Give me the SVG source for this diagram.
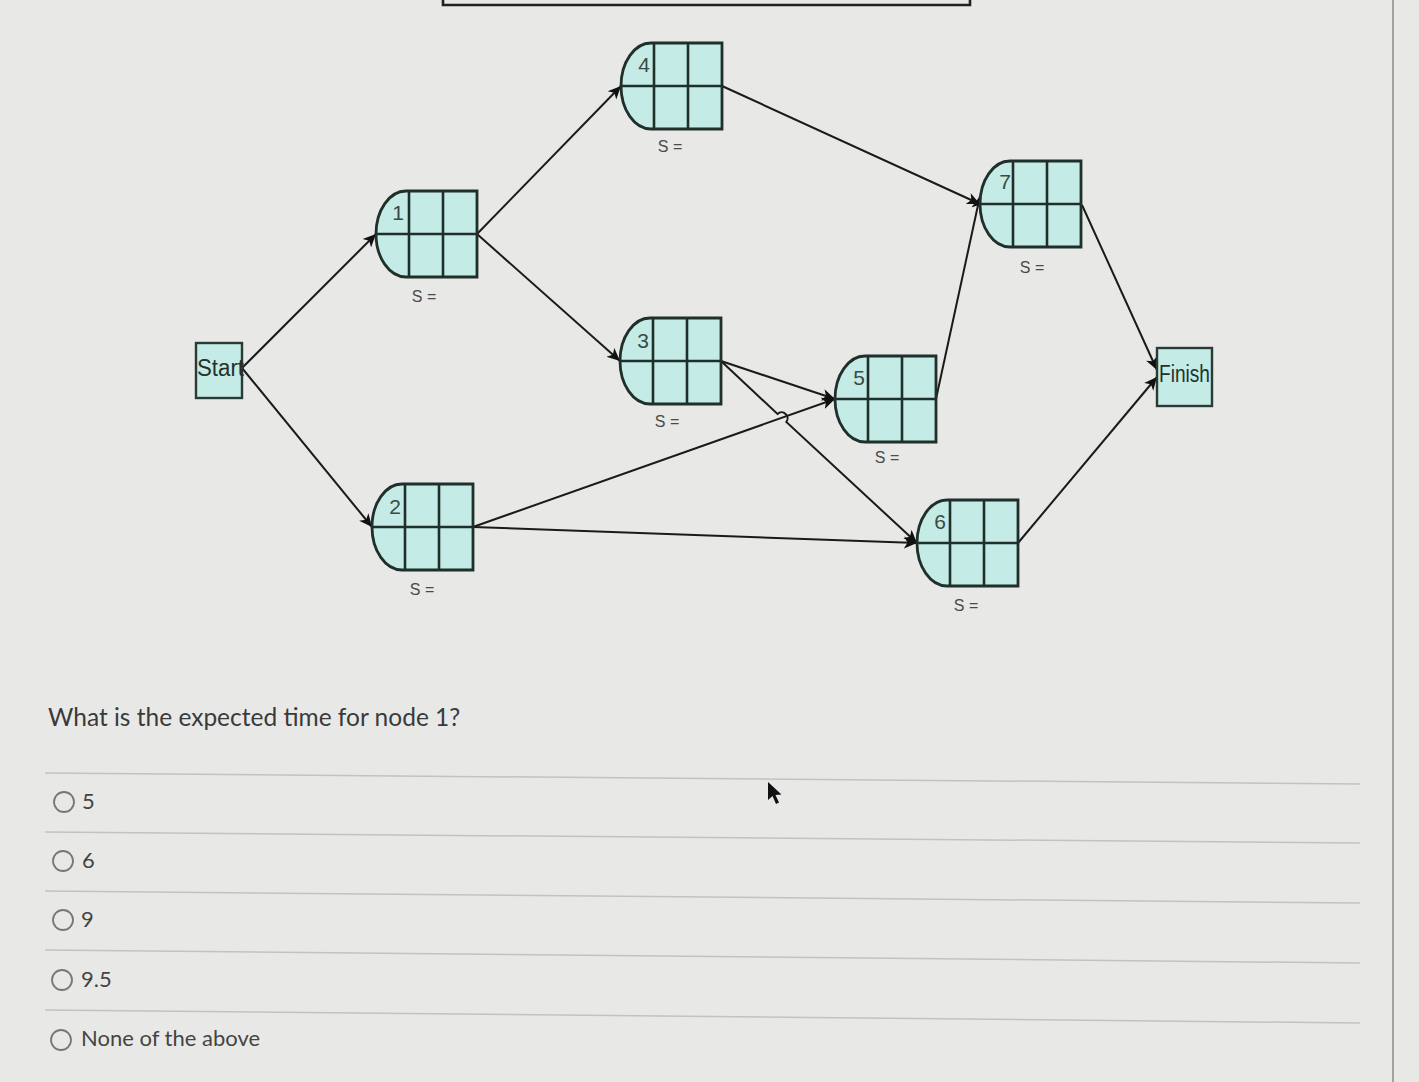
<svg xmlns="http://www.w3.org/2000/svg" xmlns:xlink="http://www.w3.org/1999/xlink" width="1419" height="1082" viewBox="0 0 1419 1082">
<style>
.bg{fill:#e8e9e6}
.nshape{fill:#c4ebe6;stroke:#1f2f2a;stroke-width:2.8}
.grid{stroke:#1f2f2a;stroke-width:2.6;fill:none}
.num{font-family:"Liberation Sans",Arial,sans-serif;font-size:21px;fill:#3b4a45;text-anchor:middle}
.s{font-family:"Liberation Sans",Arial,sans-serif;font-size:16px;fill:#4a4a4a;text-anchor:middle}
.term{fill:#c4ebe6;stroke:#2a3a35;stroke-width:2.4}
.tlabel{font-family:"Liberation Sans",Arial,sans-serif;font-size:23px;fill:#26302d}
.conn{stroke:#1a1a1a;stroke-width:2;fill:none}
.q{font-family:Lato,"Liberation Sans",sans-serif;font-size:24.5px;fill:#3a3a3a}
.opt{font-family:Lato,"Liberation Sans",sans-serif;font-size:22px;fill:#444}
.radio{fill:none;stroke:#777;stroke-width:1.8}
.sep{stroke:#c2c3c0;stroke-width:1.5}
</style>
<defs>
<marker id="arr" markerUnits="userSpaceOnUse" markerWidth="16" markerHeight="14" refX="13" refY="7" orient="auto">
<path d="M0,1 L13,7 L0,13 L3.5,7 Z" fill="#111"/>
</marker>
<g id="nodeShape">
<path class="nshape" d="M30,0 H101 V86 H30 A30 43 0 0 1 0 43 A30 43 0 0 1 30 0 Z"/>
<path class="grid" d="M0,43 H101 M33,0 V86 M67,0 V86"/>
</g>
</defs>
<rect class="bg" x="0" y="0" width="1419" height="1082"/>
<path d="M443,0 V5 H970 V0" fill="none" stroke="#222" stroke-width="2.6"/>
<line x1="1393" y1="0" x2="1393" y2="1082" stroke="#999" stroke-width="1.8"/>

<g id="connectors">
<line class="conn" x1="242" y1="368" x2="376" y2="234" marker-end="url(#arr)"/>
<line class="conn" x1="242" y1="368" x2="372" y2="527" marker-end="url(#arr)"/>
<line class="conn" x1="477" y1="234" x2="621" y2="86" marker-end="url(#arr)"/>
<line class="conn" x1="477" y1="234" x2="620" y2="361" marker-end="url(#arr)"/>
<line class="conn" x1="722" y1="86" x2="980" y2="204" marker-end="url(#arr)"/>
<line class="conn" x1="721" y1="361" x2="835" y2="399" marker-end="url(#arr)"/>
<path class="conn" d="M721,361 L777.5,413.9 A6 6 0 0 1 786.3,422 L917,543" marker-end="url(#arr)"/>
<line class="conn" x1="473" y1="527" x2="835" y2="399" marker-end="url(#arr)"/>
<line class="conn" x1="473" y1="527" x2="917" y2="543" marker-end="url(#arr)"/>
<line class="conn" x1="936" y1="399" x2="980" y2="196" marker-end="url(#arr)"/>
<line class="conn" x1="1082" y1="205" x2="1157" y2="370" marker-end="url(#arr)"/>
<line class="conn" x1="1018" y1="543" x2="1157" y2="377" marker-end="url(#arr)"/>
</g>

<g id="start">
<rect class="term" x="196" y="343" width="46" height="55"/>
<text class="tlabel" x="197" y="376" textLength="47" lengthAdjust="spacingAndGlyphs">Start</text>
</g>
<g id="finish">
<rect class="term" x="1157" y="348" width="55" height="58"/>
<text class="tlabel" x="1159" y="382" textLength="51" lengthAdjust="spacingAndGlyphs">Finish</text>
</g>

<g id="node1" transform="translate(376,191)">
<use xlink:href="#nodeShape"/>
<text class="num" x="22" y="29">1</text>
<text class="s" x="48" y="111">S =</text>
</g>
<g id="node2" transform="translate(372,484)">
<use xlink:href="#nodeShape"/>
<text class="num" x="23" y="30">2</text>
<text class="s" x="50" y="111">S =</text>
</g>
<g id="node3" transform="translate(620,318)">
<use xlink:href="#nodeShape"/>
<text class="num" x="23" y="30">3</text>
<text class="s" x="47" y="109">S =</text>
</g>
<g id="node4" transform="translate(621,43)">
<use xlink:href="#nodeShape"/>
<text class="num" x="23" y="29">4</text>
<text class="s" x="49" y="109">S =</text>
</g>
<g id="node5" transform="translate(835,356)">
<use xlink:href="#nodeShape"/>
<text class="num" x="24" y="29">5</text>
<text class="s" x="52" y="107">S =</text>
</g>
<g id="node6" transform="translate(917,500)">
<use xlink:href="#nodeShape"/>
<text class="num" x="23" y="29">6</text>
<text class="s" x="49" y="111">S =</text>
</g>
<g id="node7" transform="translate(980,161)">
<use xlink:href="#nodeShape"/>
<text class="num" x="25" y="28">7</text>
<text class="s" x="52" y="112">S =</text>
</g>

<text class="q" x="48" y="726">What is the expected time for node 1?</text>
<line class="sep" x1="45" y1="773" x2="1360" y2="784"/>
<line class="sep" x1="45" y1="832" x2="1360" y2="843"/>
<line class="sep" x1="45" y1="891" x2="1360" y2="903"/>
<line class="sep" x1="45" y1="950" x2="1360" y2="963"/>
<line class="sep" x1="45" y1="1010" x2="1360" y2="1023"/>
<circle class="radio" cx="64" cy="802" r="10"/>
<text class="opt" x="82" y="809">5</text>
<circle class="radio" cx="63" cy="861" r="10"/>
<text class="opt" x="82" y="868">6</text>
<circle class="radio" cx="63" cy="920" r="10"/>
<text class="opt" x="81" y="927">9</text>
<circle class="radio" cx="62" cy="980" r="10"/>
<text class="opt" x="81" y="987">9.5</text>
<circle class="radio" cx="61" cy="1040" r="10"/>
<text class="opt" x="81" y="1046">None of the above</text>
<path d="M768,782 L768,800 L772.5,796 L776,804 L779,802.5 L775.5,795 L781.5,794.5 Z" fill="#111"/>
</svg>
